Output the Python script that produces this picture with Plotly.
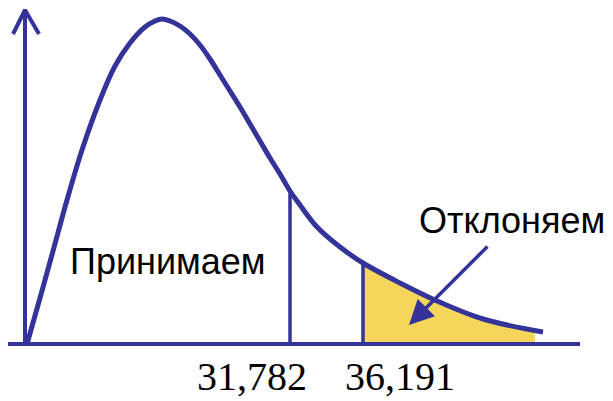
import plotly.graph_objects as go

# density curve (arbitrary units, baseline y=0, vertical axis at x=0)
curve_x = [2, 15, 28, 42, 57, 75, 90, 105, 120, 130, 137, 145, 155, 165, 175, 185, 195, 205, 215,
           225, 235, 245, 255, 265, 275, 292, 315, 338, 375, 412, 458, 518]
curve_y = [0, 46, 93, 144, 194, 244, 278, 301, 317, 323, 325, 323, 318, 310, 299, 285, 269, 253, 237,
           220, 203, 186, 170, 153, 139, 117, 97, 81, 61, 43, 25, 12]

# critical region (shaded tail)
tail_x = [338, 338, 375, 412, 458, 510, 510]
tail_y = [0, 81, 61, 43, 25, 14, 0]

# critical values
crit_x = [265, 338]
crit_y = [153, 81]
crit_labels = ["31,782", "36,191"]
region_labels = ["Принимаем", "Отклоняем"]

BLUE = "#333399"
YELLOW = "#F5D55A"

fig = go.Figure()

fig.add_trace(go.Scatter(x=tail_x, y=tail_y, fill="toself", fillcolor=YELLOW,
                         line=dict(width=0), mode="lines", hoverinfo="skip"))

# axes
fig.add_trace(go.Scatter(x=[-17, 555], y=[0, 0], mode="lines", line=dict(color=BLUE, width=4)))
fig.add_trace(go.Scatter(x=[0, 0], y=[0, 333], mode="lines", line=dict(color=BLUE, width=4)))
fig.add_trace(go.Scatter(x=[-12, 0, 14], y=[310, 334, 310], mode="lines",
                         line=dict(color=BLUE, width=4)))

# critical lines
for cx, cy in zip(crit_x, crit_y):
    fig.add_trace(go.Scatter(x=[cx, cx], y=[0, cy], mode="lines", line=dict(color=BLUE, width=3.5)))

fig.add_trace(go.Scatter(x=curve_x, y=curve_y, mode="lines",
                         line=dict(color=BLUE, width=5, shape="spline", smoothing=1.0)))

fig.add_annotation(x=384, y=19, ax=464, ay=99, xref="x", yref="y", axref="x", ayref="y",
                   text="", showarrow=True, arrowhead=2, arrowsize=1.4, arrowwidth=3.5,
                   arrowcolor=BLUE)

fig.add_annotation(x=143, y=83, text=region_labels[0], showarrow=False,
                   font=dict(family="Liberation Sans, Arial", size=36, color="black"))
fig.add_annotation(x=487, y=124, text=region_labels[1], showarrow=False,
                   font=dict(family="Liberation Sans, Arial", size=36, color="black"))

for lx, lab in zip([227, 375], crit_labels):
    fig.add_annotation(x=lx, y=-32, text=lab, showarrow=False,
                       font=dict(family="Liberation Serif, Times New Roman", size=40, color="black"))

# page body has an 8px margin: size the figure so it ends at the window edge
fig.update_layout(width=605, height=393, margin=dict(l=0, r=0, t=0, b=0),
                  paper_bgcolor="white", plot_bgcolor="white", showlegend=False)
fig.update_xaxes(range=[-17, 588], visible=False, fixedrange=True)
fig.update_yaxes(range=[-57, 336], visible=False, fixedrange=True)

fig.write_html("out.html")
